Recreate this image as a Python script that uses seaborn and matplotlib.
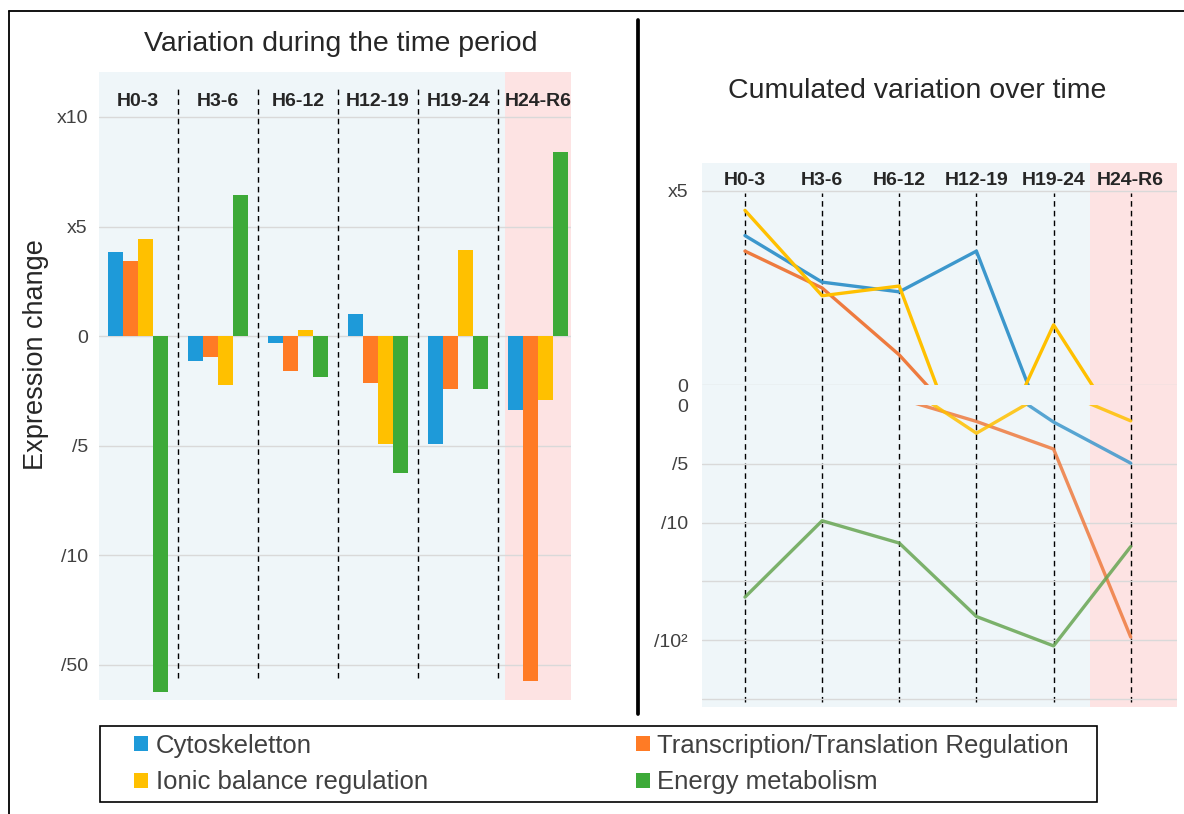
import numpy as np
import pandas as pd
import matplotlib.pyplot as plt
import seaborn as sns
from matplotlib.lines import Line2D
from matplotlib.patches import Rectangle

# ---- dados ----
periodos = ["H0-3", "H3-6", "H6-12", "H12-19", "H19-24", "H24-R6"]
categorias = ["Cytoskeletton", "Transcription/Translation Regulation",
              "Ionic balance regulation", "Energy metabolism"]

# variação por período (em passos do eixo: 0, x5, x10 / /5, /10, /50)
var_cyto = [0.77, -0.23, -0.06, 0.20, -0.98, -0.67]
var_trans = [0.69, -0.19, -0.32, -0.43, -0.48, -3.15]
var_ionic = [0.89, -0.45, 0.06, -0.98, 0.79, -0.58]
var_energy = [-3.25, 1.29, -0.37, -1.25, -0.48, 1.68]

# variação acumulada, parte superior do eixo quebrado (0 -> x5)
acum_sup_cyto = [0.77, 0.53, 0.48, 0.69, -0.34, np.nan]
acum_sup_trans = [0.69, 0.50, 0.155, -0.28, np.nan, np.nan]
acum_sup_ionic = [0.90, 0.46, 0.51, -0.55, 0.31, -0.31]
acum_sup_energy = [np.nan] * 6

# variação acumulada, parte inferior (0, /5, /10, -, /10², -)
acum_inf_cyto = [np.nan, np.nan, np.nan, 0.59, -0.29, -0.99]
acum_inf_trans = [np.nan, np.nan, 0.11, -0.28, -0.75, -3.95]
acum_inf_ionic = [np.nan, np.nan, 0.39, -0.48, 0.28, -0.27]
acum_inf_energy = [-3.27, -1.97, -2.35, -3.60, -4.10, -2.41]

ticks_esq = [2, 1, 0, -1, -2, -3]
rotulos_esq = ["x10", "x5", "0", "/5", "/10", "/50"]
ticks_sup = [0, 1]
rotulos_sup = ["0", "x5"]
ticks_inf = [0, -1, -2, -3, -4, -5]
rotulos_inf = ["0", "/5", "/10", "", "/10²", ""]

cores_barras = ["#1E9AD9", "#FF7B25", "#FFC000", "#3DAA38"]
cores_linhas = ["#3C97CC", "#EE7B3F", "#FFC000", "#67A552"]
AZUL_FUNDO = "#EFF6F9"
ROSA_FUNDO = "#FDE3E3"
GRADE = "#D9D9D9"
TEXTO = "#404040"


def tabela_longa(series):
    linhas = []
    for cat, valores in zip(categorias, series):
        for i, (p, v) in enumerate(zip(periodos, valores)):
            linhas.append({"periodo": p, "pos": i, "categoria": cat, "valor": v})
    df = pd.DataFrame(linhas)
    df["valor"] = pd.to_numeric(df["valor"])
    return df.dropna()


df_var = tabela_longa([var_cyto, var_trans, var_ionic, var_energy])
df_sup = tabela_longa([acum_sup_cyto, acum_sup_trans, acum_sup_ionic, acum_sup_energy])
df_inf = tabela_longa([acum_inf_cyto, acum_inf_trans, acum_inf_ionic, acum_inf_energy])

sns.set_style("white")
plt.rcParams['font.family'] = ['Liberation Sans', 'DejaVu Sans']

W, H = 1184, 814
fig = plt.figure(figsize=(W / 100, H / 100), dpi=100)


def px(x0, y0, x1, y1):
    """Converte retângulo em pixels para coordenadas da figura"""
    return [x0 / W, 1 - y1 / H, (x1 - x0) / W, (y1 - y0) / H]


# ---- painel esquerdo: barras ----
ax1 = fig.add_axes(px(99, 72, 571, 700))
ax1.set_facecolor(AZUL_FUNDO)
sns.barplot(data=df_var, x="periodo", y="valor", hue="categoria",
            order=periodos, hue_order=categorias,
            palette=dict(zip(categorias, cores_barras)), saturation=1,
            width=0.75, errorbar=None, linewidth=0, ax=ax1)
handles, labels = ax1.get_legend_handles_labels()
if ax1.get_legend() is not None:
    ax1.get_legend().remove()

ax1.set_xlim(-0.4875, 5.41)
ax1.set_ylim(-3.32, 2.41)
ax1.axvspan(4.59, 5.41, color=ROSA_FUNDO, lw=0, zorder=0)
ax1.vlines([0.5, 1.5, 2.5, 3.5, 4.5], -3.12, 2.26, colors="black",
           linestyles=(0, (4, 3)), lw=1, zorder=1)
for i, p in enumerate(periodos):
    ax1.text(i, 2.14, p, ha="center", va="center", fontsize=14, fontweight="bold")
ax1.set_yticks(ticks_esq, rotulos_esq)
ax1.set_xticks([])
ax1.set_xlabel("")
ax1.tick_params(axis="y", length=0, pad=8, labelsize=14, labelcolor=TEXTO)
ax1.yaxis.grid(True, color=GRADE, lw=1)
ax1.set_axisbelow(True)
for s in ax1.spines.values():
    s.set_visible(False)
ax1.set_ylabel("Expression change", fontsize=19.5)
ax1.yaxis.set_label_coords(-0.105, 0.55)

# ---- painel direito: fundo comum ----
x_min, x_max = -0.557, 5.6
fundo = fig.add_axes(px(702, 163, 1177, 707))
fundo.set_facecolor(AZUL_FUNDO)
fundo.set_xlim(x_min, x_max)
fundo.set_ylim(0, 1)
fundo.axvspan(4.47, x_max, color=ROSA_FUNDO, lw=0, zorder=0)
fundo.vlines(range(len(periodos)), 0.009, 0.945, colors="black",
             linestyles=(0, (4, 3)), lw=1, zorder=1)
for i, p in enumerate(periodos):
    fundo.text(i, 0.967, p, ha="center", va="center", fontsize=14, fontweight="bold")
fundo.set_xticks([])
fundo.set_yticks([])
for s in fundo.spines.values():
    s.set_visible(False)

paleta_linhas = dict(zip(categorias, cores_linhas))

sup = fig.add_axes(px(702, 163, 1177, 385))
sup.set_facecolor("none")
sns.lineplot(data=df_sup, x="pos", y="valor", hue="categoria", hue_order=categorias,
             palette=paleta_linhas, lw=2.4, errorbar=None, legend=False, ax=sup)
sup.set_xlim(x_min, x_max)
sup.set_ylim(0, 1.144)
sup.set_yticks(ticks_sup, rotulos_sup)

inf = fig.add_axes(px(702, 405, 1177, 707))
inf.set_facecolor("none")
sns.lineplot(data=df_inf, x="pos", y="valor", hue="categoria", hue_order=categorias,
             palette=paleta_linhas, lw=2.4, alpha=0.85, errorbar=None, legend=False, ax=inf)
inf.set_xlim(x_min, x_max)
inf.set_ylim(-5.14, 0)
inf.set_yticks(ticks_inf, rotulos_inf)

for ax in (sup, inf):
    ax.set_xticks([])
    ax.set_xlabel("")
    ax.set_ylabel("")
    ax.tick_params(axis="y", length=0, pad=10, labelsize=14, labelcolor=TEXTO)
    ax.yaxis.grid(True, color=GRADE, lw=1)
    ax.set_axisbelow(True)
    for s in ax.spines.values():
        s.set_visible(False)
inf.get_ygridlines()[0].set_visible(False)

# ---- títulos ----
fig.text(341 / W, 1 - 44 / H, "Variation during the time period",
         ha="center", va="center", fontsize=20.5)
fig.text(917 / W, 1 - 91 / H, "Cumulated variation over time",
         ha="center", va="center", fontsize=20.5)

# ---- legenda (linhas: Cyto | Trans, Ionic | Energy) ----
ordem = [0, 2, 1, 3]
fig.legend([handles[i] for i in ordem], [labels[i] for i in ordem],
           ncol=2, loc="center left",
           bbox_to_anchor=(125 / W, 1 - 800 / H, 953 / W, 72 / H),
           mode="expand", frameon=False,
           borderaxespad=0, fontsize=18.5, labelcolor=TEXTO,
           handlelength=0.55, handleheight=0.55, handletextpad=0.3,
           labelspacing=0.5, borderpad=0.35)
fig.add_artist(Rectangle((100 / W, 1 - 802 / H), 997 / W, 76 / H, fill=False,
                         edgecolor="black", lw=1.2, transform=fig.transFigure))

# ---- molduras ----
fig.add_artist(Line2D([638 / W, 638 / W], [1 - 714 / H, 1 - 20 / H],
                      color="black", lw=2.7, transform=fig.transFigure))
fig.add_artist(Line2D([9 / W, 1], [1 - 11 / H, 1 - 11 / H],
                      color="black", lw=1.3, transform=fig.transFigure))
fig.add_artist(Line2D([9 / W, 9 / W], [0, 1 - 11 / H],
                      color="black", lw=1.3, transform=fig.transFigure))

fig.savefig("out.png", dpi=100)
